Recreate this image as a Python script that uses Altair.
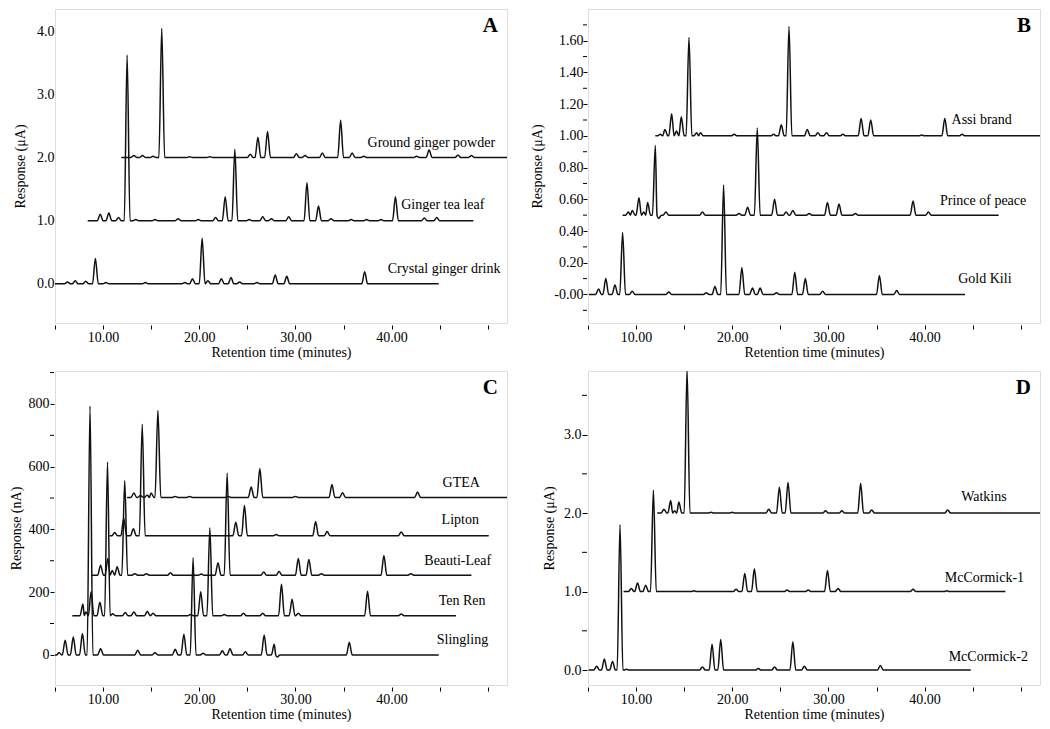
import altair as alt
import pandas as pd

FONT = "Liberation Serif"
W, H = 452, 314
X_DOMAIN = [5, 52]
X_TICKS = [5, 10, 15, 20, 25, 30, 35, 40, 45, 50]

# ---------------- Panel A (µA) ----------------
A_NAMES = ["Crystal ginger drink", "Ginger tea leaf", "Ground ginger powder"]
A_BASE = [0.0, 1.0, 2.0]
A_START = [5.0, 8.4, 11.9]
A_END = [44.9, 48.5, 52.0]
A_CRYSTAL_T = [6.3, 7.1, 8.2, 9.2, 10.3, 14.4, 18.5, 19.3, 20.3, 20.9, 22.3, 23.3, 24.2, 26.0, 27.9, 29.1, 37.2]
A_CRYSTAL_H = [0.03, 0.05, 0.04, 0.40, 0.02, 0.02, 0.02, 0.08, 0.72, 0.05, 0.08, 0.10, 0.03, 0.02, 0.14, 0.12, 0.19]
A_TEA_T = [9.7, 10.6, 11.6, 12.5, 13.4, 15.4, 17.8, 19.9, 21.7, 22.7, 23.7, 25.2, 26.6, 27.5, 29.3, 31.2, 32.4, 33.7, 35.8, 37.4, 38.9, 40.4, 43.4, 44.7]
A_TEA_H = [0.10, 0.12, 0.05, 2.62, 0.02, 0.02, 0.03, 0.02, 0.05, 0.38, 1.13, 0.02, 0.06, 0.03, 0.06, 0.60, 0.23, 0.03, 0.02, 0.02, 0.02, 0.38, 0.04, 0.05]
A_GROUND_T = [13.2, 14.1, 15.2, 16.1, 19.0, 21.1, 25.3, 26.1, 27.1, 30.1, 31.0, 32.8, 34.7, 35.9, 37.1, 42.6, 43.9, 46.9, 48.3]
A_GROUND_H = [0.03, 0.03, 0.02, 2.04, 0.01, 0.01, 0.05, 0.32, 0.41, 0.06, 0.03, 0.07, 0.59, 0.07, 0.02, 0.02, 0.12, 0.04, 0.03]
A_LABEL_T = [39.6, 41.0, 37.5]
A_LABEL_V = [0.23, 1.24, 2.23]
A_YTICKS = [0, 1, 2, 3, 4]

# ---------------- Panel B (µA) ----------------
B_NAMES = ["Gold Kili", "Prince of peace", "Assi brand"]
B_BASE = [0.0, 0.5, 1.0]
B_START = [5.1, 8.6, 12.0]
B_END = [44.2, 47.7, 52.0]
B_GOLD_T = [6.1, 6.85, 7.8, 8.6, 9.6, 13.4, 17.3, 18.2, 19.1, 21.0, 22.1, 22.9, 24.6, 26.5, 27.6, 29.4, 35.3, 37.1]
B_GOLD_H = [0.035, 0.10, 0.06, 0.39, 0.02, 0.015, 0.01, 0.05, 0.69, 0.17, 0.04, 0.04, 0.01, 0.14, 0.10, 0.02, 0.12, 0.025]
B_PRINCE_T = [9.2, 9.6, 10.3, 10.8, 11.2, 12.0, 12.35, 13.1, 16.9, 20.7, 21.6, 22.6, 24.4, 25.6, 26.3, 28.0, 29.9, 31.1, 32.8, 38.8, 40.4]
B_PRINCE_H = [0.02, 0.03, 0.11, 0.02, 0.08, 0.44, -0.02, 0.02, 0.02, 0.01, 0.05, 0.55, 0.10, 0.02, 0.03, 0.01, 0.08, 0.07, 0.01, 0.09, 0.02]
B_ASSI_T = [12.5, 13.0, 13.7, 14.2, 14.7, 15.5, 16.3, 16.7, 20.2, 24.3, 25.1, 25.9, 27.8, 28.9, 29.8, 31.5, 33.4, 34.4, 39.7, 42.1, 43.9]
B_ASSI_H = [0.01, 0.04, 0.14, 0.03, 0.12, 0.62, 0.02, 0.02, 0.01, 0.01, 0.07, 0.69, 0.04, 0.02, 0.02, 0.01, 0.11, 0.10, 0.005, 0.11, 0.01]
B_LABEL_T = [43.5, 41.6, 42.8]
B_LABEL_V = [0.095, 0.59, 1.10]
B_YTICKS = [0.0, 0.2, 0.4, 0.6, 0.8, 1.0, 1.2, 1.4, 1.6]
B_YMINOR = [-0.1, 0.1, 0.3, 0.5, 0.7, 0.9, 1.1, 1.3, 1.5, 1.7]

# ---------------- Panel C (nA) ----------------
C_NAMES = ["Slingling", "Ten Ren", "Beauti-Leaf", "Lipton", "GTEA"]
C_BASE = [0, 125, 254, 380, 502]
C_START = [5.0, 6.8, 8.8, 10.67, 12.5]
C_END = [44.9, 46.7, 48.3, 50.1, 52.0]
C_SLING_T = [5.4, 6.06, 6.9, 7.85, 8.64, 9.74, 13.6, 15.4, 17.5, 18.4, 19.36, 20.4, 22.4, 23.2, 24.8, 26.75, 27.8, 28.1, 35.6]
C_SLING_H = [8, 47, 57, 68, 793, 20, 15, 7, 18, 66, 310, 5, 13, 20, 10, 63, 34, -7, 40]
C_TENREN_T = [7.9, 8.2, 8.75, 9.67, 10.46, 11.0, 12.3, 13.2, 14.6, 15.2, 19.1, 20.15, 21.1, 22.6, 24.6, 26.6, 28.55, 29.65, 30.3, 37.5, 41.0]
C_TENREN_H = [37, 12, 76, 43, 490, 6, 10, 12, 13, 8, 4, 76, 280, 4, 8, 8, 100, 52, 8, 78, 5]
C_BEAUTI_T = [9.74, 10.5, 10.95, 11.46, 12.25, 13.3, 14.5, 17.0, 20.2, 21.95, 22.9, 26.7, 28.3, 30.3, 31.4, 32.7, 39.2, 42.0]
C_BEAUTI_H = [32, 53, 15, 27, 302, 5, 5, 8, 4, 40, 325, 10, 12, 53, 50, 5, 63, 5]
C_LIPTON_T = [11.2, 12.15, 13.15, 14.07, 23.8, 24.7, 28.0, 32.1, 33.3, 41.0]
C_LIPTON_H = [10, 55, 22, 355, 43, 96, 4, 45, 13, 12]
C_GTEA_T = [13.2, 13.9, 14.6, 15.0, 15.7, 17.5, 19.0, 23.0, 25.4, 26.3, 30.0, 33.8, 34.9, 42.7]
C_GTEA_H = [14, 6, 8, 14, 277, 3, 3, 3, 33, 92, 3, 41, 15, 17]
C_LABEL_T = [44.7, 44.9, 43.4, 45.2, 45.3]
C_LABEL_V = [48, 172, 300, 429, 549]
C_YTICKS = [0, 200, 400, 600, 800]
C_YMINOR = [100, 300, 500, 700, 900]

# ---------------- Panel D (µA) ----------------
D_NAMES = ["McCormick-2", "McCormick-1", "Watkins"]
D_BASE = [0.0, 1.0, 2.0]
D_START = [5.07, 8.7, 12.2]
D_END = [44.8, 48.4, 52.0]
D_MCC2_T = [5.9, 6.7, 7.55, 8.33, 9.0, 16.9, 17.9, 18.8, 22.7, 24.4, 26.3, 27.5, 35.4]
D_MCC2_H = [0.05, 0.14, 0.11, 1.85, 0.01, 0.04, 0.33, 0.39, 0.02, 0.04, 0.36, 0.05, 0.06]
D_MCC1_T = [9.5, 10.15, 11.0, 11.8, 16.0, 20.4, 21.3, 22.3, 25.7, 27.9, 29.9, 31.0, 38.8, 42.3]
D_MCC1_H = [0.04, 0.11, 0.08, 1.29, 0.01, 0.03, 0.23, 0.29, 0.02, 0.02, 0.27, 0.04, 0.03, 0.01]
D_WAT_T = [12.9, 13.6, 14.0, 14.45, 15.3, 17.8, 20.0, 23.8, 24.9, 25.8, 29.7, 31.4, 33.35, 34.5, 42.4]
D_WAT_H = [0.05, 0.16, 0.03, 0.14, 1.84, 0.01, 0.01, 0.05, 0.33, 0.39, 0.03, 0.03, 0.38, 0.04, 0.04]
D_LABEL_T = [42.5, 42.1, 43.8]
D_LABEL_V = [0.17, 1.17, 2.20]
D_YTICKS = [0, 1, 2, 3]
D_YMINOR = [0.5, 1.5, 2.5, 3.5]


def trace_rows(name, base, start, end, times, heights, hw=0.3):
    pts = [(start, base)]
    n = len(times)
    for i, (t, h) in enumerate(zip(times, heights)):
        prev = times[i - 1] if i > 0 else start
        nxt = times[i + 1] if i < n - 1 else end
        wl = min(hw, (t - prev) / 2)
        wr = min(hw, (nxt - t) / 2)
        pts.append((t - wl, base))
        pts.append((t, base + h))
        pts.append((t + wr, base))
    pts.append((end, base))
    rows = []
    last_x = None
    for x, v in pts:
        if last_x is not None and abs(x - last_x) < 1e-9:
            continue
        rows.append({"trace": name, "t": x, "v": v, "i": len(rows)})
        last_x = x
    return rows


def panel_df(names, bases, starts, ends, peak_lists):
    rows = []
    for name, b, s, e, (ts, hs) in zip(names, bases, starts, ends, peak_lists):
        rows += trace_rows(name, b, s, e, ts, hs)
    return pd.DataFrame(rows)


def x_axis():
    return alt.Axis(
        values=X_TICKS,
        labelExpr="datum.value % 10 == 0 && datum.value >= 10 && datum.value <= 40 ? format(datum.value, '.2f') : ''",
        title="Retention time (minutes)", domain=False, grid=False,
        tickSize=4, offset=2, labelPadding=1, titlePadding=1,
        labelFontSize=14, titleFontSize=14, labelFont=FONT, titleFont=FONT,
        titleFontWeight="normal", labelColor="black", titleColor="black", tickColor="black",
        labelOverlap=False,
    )


def y_axis(title, values, label_expr, ticks=True, tick_size=4, offset=1, label_padding=1, title_padding=9):
    kw = dict(
        values=values, labelExpr=label_expr, title=title, domain=False, grid=False,
        ticks=ticks, labelPadding=label_padding, titlePadding=title_padding, offset=offset,
        labelFontSize=14, titleFontSize=14, labelFont=FONT, titleFont=FONT,
        titleFontWeight="normal", labelColor="black", titleColor="black", tickColor="black",
        labelOverlap=False,
    )
    if ticks:
        kw["tickSize"] = tick_size
    return alt.Axis(**kw)


def panel(df, names, lab_t, lab_v, ydom, yaxis, letter, minor=None, tick_size=4, offset=1):
    xs = alt.Scale(domain=X_DOMAIN, nice=False, zero=False)
    ys = alt.Scale(domain=ydom, nice=False, zero=False)
    line = alt.Chart(df).mark_line(color="#111111", strokeWidth=1.5, interpolate="monotone", clip=True).encode(
        x=alt.X("t:Q", scale=xs, axis=x_axis()),
        y=alt.Y("v:Q", scale=ys, axis=yaxis),
        detail="trace:N",
        order="i:Q",
    )
    labels = alt.Chart(pd.DataFrame({"label": names, "t": lab_t, "v": lab_v})).mark_text(
        align="left", baseline="middle", font=FONT, fontSize=14, color="black"
    ).encode(x=alt.X("t:Q", scale=xs, axis=x_axis()), y=alt.Y("v:Q", scale=ys, axis=yaxis), text="label:N")
    let = alt.Chart(pd.DataFrame({"letter": [letter]})).mark_text(
        align="right", baseline="alphabetic", font=FONT, fontSize=21, fontWeight="bold", color="black"
    ).encode(x=alt.value(W - 9), y=alt.value(23), text="letter:N")
    layers = [line, labels, let]
    if minor:
        mt = alt.Chart(pd.DataFrame({"v": minor})).mark_rule(color="black", strokeWidth=1, clip=False).encode(
            y=alt.Y("v:Q", scale=ys, axis=yaxis),
            x=alt.value(-offset - tick_size),
            x2=alt.value(-offset),
        )
        layers.append(mt)
    return alt.layer(*layers).properties(width=W, height=H)


dfA = panel_df(A_NAMES, A_BASE, A_START, A_END,
               [(A_CRYSTAL_T, A_CRYSTAL_H), (A_TEA_T, A_TEA_H), (A_GROUND_T, A_GROUND_H)])
dfB = panel_df(B_NAMES, B_BASE, B_START, B_END,
               [(B_GOLD_T, B_GOLD_H), (B_PRINCE_T, B_PRINCE_H), (B_ASSI_T, B_ASSI_H)])
dfC = panel_df(C_NAMES, C_BASE, C_START, C_END,
               [(C_SLING_T, C_SLING_H), (C_TENREN_T, C_TENREN_H), (C_BEAUTI_T, C_BEAUTI_H),
                (C_LIPTON_T, C_LIPTON_H), (C_GTEA_T, C_GTEA_H)])
dfD = panel_df(D_NAMES, D_BASE, D_START, D_END,
               [(D_MCC2_T, D_MCC2_H), (D_MCC1_T, D_MCC1_H), (D_WAT_T, D_WAT_H)])

yA = y_axis("Response (μA)", A_YTICKS, "format(datum.value, '.1f')", ticks=False, offset=0, label_padding=1)
yB = y_axis("Response (μA)", B_YTICKS, "datum.value == 0 ? '-0.00' : format(datum.value, '.2f')",
            tick_size=4, offset=1, label_padding=0, title_padding=9)
yC = y_axis("Response (nA)", C_YTICKS, "format(datum.value, 'd')",
            tick_size=4, offset=1, label_padding=1, title_padding=5)
yD = y_axis("Response (μA)", D_YTICKS, "format(datum.value, '.1f')",
            tick_size=5, offset=1, label_padding=1, title_padding=7)

pA = panel(dfA, A_NAMES, A_LABEL_T, A_LABEL_V, [-0.62, 4.35], yA, "A")
pB = panel(dfB, B_NAMES, B_LABEL_T, B_LABEL_V, [-0.18, 1.80], yB, "B", minor=B_YMINOR, tick_size=4, offset=1)
pC = panel(dfC, C_NAMES, C_LABEL_T, C_LABEL_V, [-96, 905], yC, "C", minor=C_YMINOR, tick_size=4, offset=1)
pD = panel(dfD, D_NAMES, D_LABEL_T, D_LABEL_V, [-0.19, 3.81], yD, "D", minor=D_YMINOR, tick_size=5, offset=1)

chart = alt.concat(pA, pB, pC, pD, columns=2).properties(
    spacing={"row": 48, "column": 81}, bounds="flush", padding=0
).configure_view(stroke="black", strokeWidth=1).configure(background="white")

chart.save("out.html", embed_options={"renderer": "svg", "actions": False})
